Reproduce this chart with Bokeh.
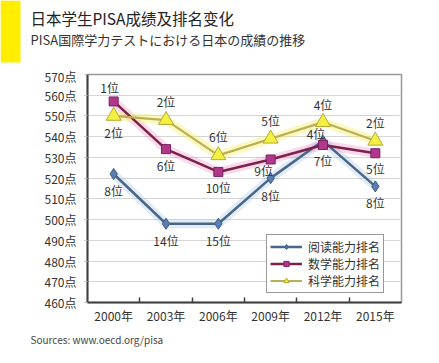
from bokeh.plotting import figure
from bokeh.layouts import column
from bokeh.models import (Range1d, FixedTicker, Legend, LegendItem, ColumnDataSource)
from bokeh.core.properties import value
from bokeh.embed import file_html
from bokeh.resources import INLINE

# ---------------- data ----------------
years = ["2000年", "2003年", "2006年", "2009年", "2012年", "2015年"]
reading = [522, 498, 498, 520, 538, 516]
math = [557, 534, 523, 529, 536, 532]
science = [550, 548, 531, 539, 547, 538]
reading_rank = ["8位", "14位", "15位", "8位", "4位", "8位"]
math_rank = ["1位", "6位", "10位", "9位", "7位", "5位"]
science_rank = ["2位", "2位", "6位", "5位", "4位", "2位"]
y_ticks = [460, 470, 480, 490, 500, 510, 520, 530, 540, 550, 560, 570]
series_names = ["阅读能力排名", "数学能力排名", "科学能力排名"]
title_text = "日本学生PISA成绩及排名变化"
subtitle_text = "PISA国際学力テストにおける日本の成績の推移"
source_text = "Sources:  www.oecd.org/pisa"

# ---------------- layout / style ----------------
FONT = "Noto Sans CJK SC"
W = 439
xpos = [i + 0.5 for i in range(len(years))]

# label pixel offsets (dx, dy) ; dy positive = downward on screen
reading_off = [(0, 17), (0, 17), (0, 17), (0, 17), (-7, -7), (0, 16)]
math_off = [(-4, -14), (0, 16), (0, 16), (-7, 11), (0, 16), (0, 15)]
science_off = [(0, 17), (0, -19), (0, -19), (0, -18), (0, -18), (0, -18)]

# ---------- header ----------
HH = 67
head = figure(width=W, height=HH, output_backend="svg", toolbar_location=None,
              x_range=Range1d(0, W), y_range=Range1d(0, HH),
              x_axis_type=None, y_axis_type=None, min_border=0,
              background_fill_color="white", border_fill_color="white")
head.frame_align = False
head.outline_line_color = None
head.grid.visible = False
head.quad(left=[0], right=[20], top=[HH], bottom=[HH - 62], fill_color="#ffee00",
          line_color=None)
head.text(x=[30], y=[HH - 17], text=[title_text], text_font=value(FONT),
          text_font_size="15.5px", text_color="#222222", text_baseline="middle")
head.text(x=[30], y=[HH - 39], text=[subtitle_text], text_font=value(FONT),
          text_font_size="13px", text_color="#333333", text_baseline="middle")

# ---------- main chart ----------
p = figure(width=W, height=263, output_backend="svg", toolbar_location=None,
           x_range=Range1d(0, len(years)), y_range=Range1d(y_ticks[0], y_ticks[-1]),
           min_border_left=87, min_border_right=38, min_border_top=7, min_border_bottom=28,
           background_fill_color="white", border_fill_color="white")
p.frame_align = False
p.outline_line_color = "#9a9a9a"
p.outline_line_width = 1.5

p.xgrid.grid_line_color = None
p.ygrid.ticker = FixedTicker(ticks=y_ticks)
p.ygrid.grid_line_color = "#d4d4d4"
p.ygrid.grid_line_width = 1.2

p.yaxis.ticker = FixedTicker(ticks=y_ticks)
p.yaxis.major_label_overrides = {t: f"{t}点" for t in y_ticks}
p.yaxis.axis_line_color = "#404040"
p.yaxis.axis_line_width = 2
p.yaxis.major_tick_line_color = "#bbbbbb"
p.yaxis.major_tick_in = 0
p.yaxis.major_tick_out = 3
p.yaxis.minor_tick_line_color = None
p.yaxis.major_label_text_font = FONT
p.yaxis.major_label_text_font_size = "12px"
p.yaxis.major_label_text_color = "#333333"
p.yaxis.major_label_standoff = 8

p.xaxis.ticker = FixedTicker(ticks=xpos, minor_ticks=list(range(1, len(years))))
p.xaxis.major_label_overrides = {x: y for x, y in zip(xpos, years)}
p.xaxis.axis_line_color = "#404040"
p.xaxis.axis_line_width = 2
p.xaxis.major_tick_line_color = None
p.xaxis.minor_tick_line_color = "#404040"
p.xaxis.minor_tick_line_width = 1.5
p.xaxis.minor_tick_in = 5
p.xaxis.minor_tick_out = 0
p.xaxis.major_label_text_font = FONT
p.xaxis.major_label_text_font_size = "12px"
p.xaxis.major_label_text_color = "#333333"
p.xaxis.major_label_standoff = -2

# glows
p.line(xpos, reading, line_color="#a8c8e8", line_width=9, line_alpha=0.35)
p.line(xpos, math, line_color="#f080c0", line_width=9, line_alpha=0.3)
p.line(xpos, science, line_color="#f8f060", line_width=9, line_alpha=0.4)

# series
r_line = p.line(xpos, reading, line_color="#4a6688", line_width=2.5)
r_mark = p.scatter(xpos, reading, marker="diamond", size=11, fill_color="#5a7fb0",
                   line_color="#3e5a80", line_width=1)
m_line = p.line(xpos, math, line_color="#7a2248", line_width=2.5)
m_mark = p.scatter(xpos, math, marker="square", size=9, fill_color="#b0388a",
                   line_color="#7a2060", line_width=1)
s_line = p.line(xpos, science, line_color="#bcae58", line_width=2.2)
s_mark = p.scatter(xpos, science, marker="triangle", size=15, fill_color="#f2f040",
                   line_color="#b8a838", line_width=1)

for vals, ranks, offs in [(reading, reading_rank, reading_off),
                          (math, math_rank, math_off),
                          (science, science_rank, science_off)]:
    src = ColumnDataSource(dict(x=xpos, y=vals, t=ranks,
                                dx=[o[0] for o in offs], dy=[o[1] for o in offs]))
    p.text(x="x", y="y", text="t", x_offset="dx", y_offset="dy", source=src,
           text_font=value(FONT), text_font_size="12px", text_color="#333333",
           text_align="center", text_baseline="middle")

legend = Legend(items=[
    LegendItem(label=series_names[0], renderers=[r_line, r_mark]),
    LegendItem(label=series_names[1], renderers=[m_line, m_mark]),
    LegendItem(label=series_names[2], renderers=[s_line, s_mark]),
], location=(179, 9))
legend.border_line_color = "#333333"
legend.border_line_width = 1.5
legend.background_fill_color = "white"
legend.background_fill_alpha = 1
legend.label_text_font = FONT
legend.label_text_font_size = "12px"
legend.label_text_color = "#333333"
legend.label_height = 13
legend.glyph_height = 13
legend.glyph_width = 32
legend.spacing = 0
legend.padding = 3
legend.margin = 0
legend.label_standoff = 6
p.add_layout(legend, "center")

# ---------- footer ----------
FH = 33
foot = figure(width=W, height=FH, output_backend="svg", toolbar_location=None,
              x_range=Range1d(0, W), y_range=Range1d(0, FH),
              x_axis_type=None, y_axis_type=None, min_border=0,
              background_fill_color="white", border_fill_color="white")
foot.frame_align = False
foot.outline_line_color = None
foot.grid.visible = False
foot.text(x=[30], y=[FH - 9], text=[source_text], text_font=value(FONT),
          text_font_size="10px", text_color="#444444", text_baseline="middle")

layout = column(head, p, foot, spacing=0)
open("out.html", "w").write(file_html(layout, INLINE))
